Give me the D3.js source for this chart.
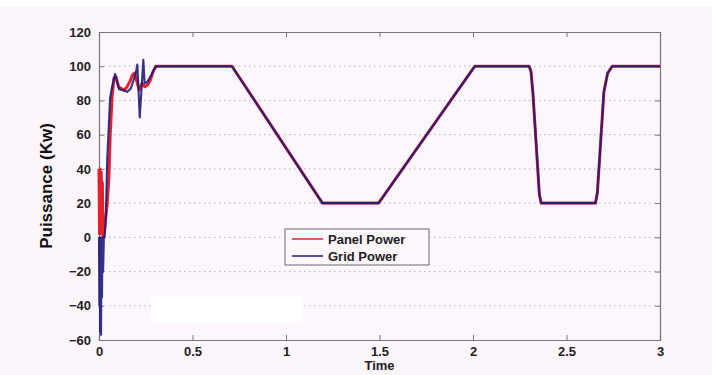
<!DOCTYPE html>
<html>
<head>
<meta charset="utf-8">
<script src="https://cdn.jsdelivr.net/npm/d3@7"></script>
<style>
  html, body { margin: 0; padding: 0; background: #fcf5fc; }
  svg { display: block; }
  text { font-family: "Liberation Sans", Arial, sans-serif; }
</style>
</head>
<body>
<svg id="chart" width="712" height="375"></svg>
<script>
// Panel power (kW) over time (s)
const panelTime = [0, 0.003, 0.006, 0.009, 0.012, 0.015, 0.018, 0.022, 0.030, 0.044, 0.053, 0.060, 0.070, 0.080, 0.090, 0.105, 0.120, 0.135, 0.150, 0.165, 0.180, 0.190, 0.200, 0.215, 0.230, 0.245, 0.260, 0.275, 0.290, 0.305, 0.711, 1.195, 1.495, 2.010, 2.300, 2.310, 2.320, 2.355, 2.365, 2.655, 2.665, 2.700, 2.720, 2.745, 3.000];
const panelPower = [40, 2, 40, 3, 38, 2, 32, 0, 5, 20, 35, 60, 82, 93, 94, 88, 87, 86, 88, 91, 95, 96, 92, 86, 90, 88, 89, 92, 97, 100, 100, 20, 20, 100, 100, 97, 85, 25, 20, 20, 26, 85, 96, 100, 100];

// Grid power (kW) over time (s)
const gridTime = [0, 0.002, 0.004, 0.006, 0.009, 0.011, 0.013, 0.016, 0.019, 0.022, 0.026, 0.030, 0.036, 0.044, 0.053, 0.059, 0.070, 0.086, 0.107, 0.130, 0.150, 0.170, 0.196, 0.205, 0.218, 0.237, 0.244, 0.260, 0.280, 0.303, 0.711, 1.195, 1.495, 2.010, 2.300, 2.310, 2.320, 2.355, 2.365, 2.655, 2.665, 2.700, 2.720, 2.745, 3.000];
const gridPower = [0, -40, 0, -55, -10, -57, 0, -35, 0, -20, 0, 0, 10, 46, 66, 81, 88, 95.5, 86.6, 86, 85, 87, 95.5, 101, 70, 103.7, 90, 91, 95, 100, 100, 20, 20, 100, 100, 97, 85, 25, 20, 20, 26, 85, 96, 100, 100];

const xTicks = [0, 0.5, 1, 1.5, 2, 2.5, 3];
const yTicks = [-60, -40, -20, 0, 20, 40, 60, 80, 100, 120];
const gridValues = [-40, -20, 0, 20, 40, 60, 80, 100];

const seriesNames = ["Panel Power", "Grid Power"];
const seriesColors = ["#e3222c", "#1f1c7a"];

const svg = d3.select("#chart");
const margin = { left: 99, top: 32, right: 52, bottom: 35 };
const W = 712, H = 375;
const pw = W - margin.left - margin.right;
const ph = H - margin.top - margin.bottom;

// white strip along the top of the figure
svg.append("rect").attr("x", 0).attr("y", 0).attr("width", W).attr("height", 7).attr("fill", "#ffffff");

const x = d3.scaleLinear().domain([0, 3]).range([0, pw]);
const y = d3.scaleLinear().domain([-60, 120]).range([ph, 0]);

const g = svg.append("g").attr("transform", `translate(${margin.left},${margin.top})`);

g.append("rect").attr("width", pw).attr("height", ph).attr("fill", "#fdf7fd");

// dotted horizontal grid
g.append("g").selectAll("line").data(gridValues).join("line")
  .attr("x1", 0).attr("x2", pw)
  .attr("y1", d => y(d)).attr("y2", d => y(d))
  .attr("stroke", "#b9b2b9").attr("stroke-width", 1)
  .attr("stroke-dasharray", "1.5,3.5");

// blank patch over the lower-left area
g.append("rect")
  .attr("x", x(0.28)).attr("y", y(-34))
  .attr("width", x(1.09) - x(0.28)).attr("height", y(-50) - y(-34))
  .attr("fill", "#ffffff");

// axes with inward ticks, mirrored on top and right
const axisColor = "#7a737a";
const axBottom = g.append("g").attr("transform", `translate(0,${ph})`)
  .call(d3.axisBottom(x).tickValues(xTicks).tickSize(-5).tickPadding(9).tickFormat(d3.format("")));
const axTop = g.append("g")
  .call(d3.axisTop(x).tickValues(xTicks).tickSize(-5).tickFormat(""));
const axLeft = g.append("g")
  .call(d3.axisLeft(y).tickValues(yTicks).tickSize(-5).tickPadding(8));
const axRight = g.append("g").attr("transform", `translate(${pw},0)`)
  .call(d3.axisRight(y).tickValues(yTicks).tickSize(-5).tickFormat(""));

[axBottom, axTop, axLeft, axRight].forEach(a => {
  a.select(".domain").attr("stroke", axisColor).attr("stroke-width", 1.2);
  a.selectAll(".tick line").attr("stroke", axisColor);
  a.selectAll("text").attr("fill", "#222").attr("font-size", 13).attr("font-weight", "bold")
    .style("font-family", "Liberation Sans, Arial, sans-serif");
});
axBottom.selectAll("text").attr("dy", "0.55em");

// series lines
const line = d3.line().x(d => x(d[0])).y(d => y(d[1]));
const panelData = panelTime.map((t, i) => [t, panelPower[i]]);
const gridData = gridTime.map((t, i) => [t, gridPower[i]]);

g.append("path").datum(panelData).attr("d", line)
  .attr("fill", "none").attr("stroke", seriesColors[0]).attr("stroke-width", 3)
  .attr("stroke-linejoin", "round");
g.append("path").datum(gridData).attr("d", line)
  .attr("fill", "none").attr("stroke", seriesColors[1]).attr("stroke-width", 2.1)
  .attr("stroke-opacity", 0.9).attr("stroke-linejoin", "round");

// legend
const lg = svg.append("g").attr("transform", "translate(285,229)");
lg.append("rect").attr("width", 144).attr("height", 36)
  .attr("fill", "#fdf7fd").attr("stroke", "#6e666e").attr("stroke-width", 1);
seriesNames.forEach((name, i) => {
  const yy = 10 + i * 17;
  lg.append("line").attr("x1", 7).attr("x2", 38).attr("y1", yy).attr("y2", yy)
    .attr("stroke", seriesColors[i]).attr("stroke-width", 1.5);
  lg.append("text").attr("x", 43).attr("y", yy).attr("dy", "0.35em")
    .attr("font-size", 13).attr("font-weight", "bold").attr("fill", "#222").text(name);
});

// axis titles
svg.append("text").attr("x", margin.left + x(1.5)).attr("y", 370)
  .attr("text-anchor", "middle").attr("font-size", 13).attr("font-weight", "bold").attr("fill", "#222")
  .text("Time");
svg.append("text").attr("transform", "translate(52,186) rotate(-90)")
  .attr("text-anchor", "middle").attr("font-size", 17).attr("font-weight", "bold").attr("fill", "#111")
  .text("Puissance (Kw)");
</script>
</body>
</html>
